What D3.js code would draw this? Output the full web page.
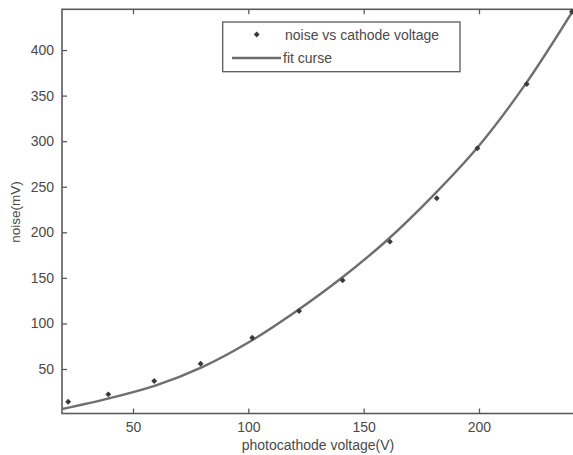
<!DOCTYPE html>
<html>
<head>
<meta charset="utf-8">
<script src="https://cdn.jsdelivr.net/npm/d3@7"></script>
<style>
html,body{margin:0;padding:0;background:#fff;}
svg{display:block;}
text{font-family:"Liberation Sans",Arial,sans-serif;fill:#4a4a4a;}
</style>
</head>
<body>
<svg id="chart" width="573" height="455"></svg>
<script>
// measured data points
const voltage = [21.9, 39.3, 59.2, 79.3, 101.7, 122.0, 140.9, 161.4, 181.7, 199.3, 220.7, 240.3];
const noise   = [14.1, 22.2, 36.8, 55.8, 84.3, 113.6, 147.3, 189.7, 237.3, 292.2, 362.7, 442.0];
// fit curve
const fitVoltage = [19.2, 40, 60, 80, 100, 120, 140, 160, 180, 200, 220, 241.2];
const fitNoise   = [6, 18, 32, 52, 79, 112, 149, 191, 240, 295, 362, 445];
const xTicks = [50, 100, 150, 200];
const yTicks = [50, 100, 150, 200, 250, 300, 350, 400];
const xDomain = [19.22, 241.2];
const yDomain = [1.17, 444.7];
const legendLabels = ["noise vs cathode voltage", "fit curse"];
const xLabel = "photocathode voltage(V)";
const yLabel = "noise(mV)";

const svg = d3.select("#chart");
const L = 62, R = 574, T = 9.3, B = 413.5;
const x = d3.scaleLinear().domain(xDomain).range([L, R]);
const y = d3.scaleLinear().domain(yDomain).range([B, T]);
const axisColor = "#5a5a5a";

// plot frame
svg.append("rect").attr("x", L).attr("y", T).attr("width", R - L).attr("height", B - T)
  .attr("fill", "#fff").attr("stroke", axisColor).attr("stroke-width", 1.6);

// axes (ticks pointing inward)
const gx = svg.append("g").attr("transform", `translate(0,${B})`)
  .call(d3.axisBottom(x).tickValues(xTicks).tickSizeInner(-5).tickSizeOuter(0).tickPadding(9));
const gxTop = svg.append("g").attr("transform", `translate(0,${T})`)
  .call(d3.axisTop(x).tickValues(xTicks).tickSizeInner(-5).tickSizeOuter(0).tickFormat(""));
const gy = svg.append("g").attr("transform", `translate(${L},0)`)
  .call(d3.axisLeft(y).tickValues(yTicks).tickSizeInner(-5).tickSizeOuter(0).tickPadding(8));
[gx, gxTop, gy].forEach(g => {
  g.select(".domain").remove();
  g.selectAll(".tick line").attr("stroke", axisColor).attr("stroke-width", 1.3);
  g.selectAll(".tick text").style("font-size", "14px").attr("fill", "#505050")
    .style("font-family", "'Liberation Sans', Arial, sans-serif");
});

// fit curve
const line = d3.line().x((d, i) => x(fitVoltage[i])).y((d, i) => y(fitNoise[i]))
  .curve(d3.curveCatmullRom.alpha(0.5));
svg.append("defs").append("clipPath").attr("id", "clip")
  .append("rect").attr("x", L).attr("y", T).attr("width", R - L).attr("height", B - T);
svg.append("path").datum(fitNoise).attr("d", line).attr("fill", "none")
  .attr("stroke", "#6e6e6e").attr("stroke-width", 2.4).attr("clip-path", "url(#clip)");

// data points
const sym = d3.symbol().type(d3.symbolDiamond2).size(22);
svg.append("g").selectAll("path").data(voltage).join("path")
  .attr("d", sym)
  .attr("transform", (d, i) => `translate(${x(d)},${y(noise[i])})`)
  .attr("fill", "#3a3a3a");

// legend
const lg = svg.append("g");
lg.append("rect").attr("x", 222.7).attr("y", 22).attr("width", 237.3).attr("height", 49.7)
  .attr("fill", "#fff").attr("stroke", axisColor).attr("stroke-width", 1.3);
lg.append("path").attr("d", sym).attr("transform", "translate(256.7,34.5)").attr("fill", "#3a3a3a");
lg.append("text").attr("x", 285).attr("y", 39.5).style("font-size", "14px").text(legendLabels[0]);
lg.append("line").attr("x1", 232).attr("x2", 281).attr("y1", 58).attr("y2", 58)
  .attr("stroke", "#6e6e6e").attr("stroke-width", 2.4);
lg.append("text").attr("x", 283).attr("y", 63).style("font-size", "14px").text(legendLabels[1]);

// axis labels
svg.append("text").attr("x", 318).attr("y", 450).attr("text-anchor", "middle")
  .style("font-size", "14px").text(xLabel);
svg.append("text").attr("transform", "translate(20,212) rotate(-90)").attr("text-anchor", "middle")
  .style("font-size", "13.5px").text(yLabel);
</script>
</body>
</html>
